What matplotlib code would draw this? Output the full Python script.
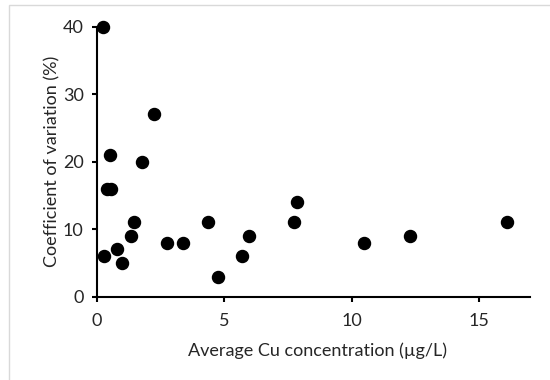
#!/usr/bin/env python

"""
Scatter of coefficient of variation against average Cu concentration.
"""

import matplotlib
matplotlib.use("Agg")
import matplotlib.pyplot as plt
from matplotlib.patches import Rectangle

# values
cu_conc = [0.25, 0.27, 0.5, 0.4, 0.55, 0.78, 0.98, 1.35, 1.45, 1.76, 2.24,
           2.75, 3.37, 4.35, 4.75, 5.7, 5.96, 7.73, 7.84, 10.47, 12.3, 16.1]
cv_pct = [40, 6, 21, 16, 16, 7, 5, 9, 11, 20, 27,
          8, 8, 11, 3, 6, 9, 11, 14, 8, 9, 11]
x_ticks = [0, 5, 10, 15]
y_ticks = [0, 10, 20, 30, 40]

plt.rcParams['font.family'] = ['Lato', 'DejaVu Sans']

fig = plt.figure(figsize=(5.5, 3.8), dpi=100)
ax = fig.add_axes([0.176, 0.219, 0.788, 0.711])

# light grey chart-area frame, as in the spreadsheet export
fig.patches.append(Rectangle((9 / 550, -0.1), 1.2, 1 - 5 / 380 + 0.1,
                             transform=fig.transFigure, fill=False,
                             edgecolor='#d9d9d9', linewidth=1))

ax.scatter(cu_conc, cv_pct, s=75, color='black', zorder=3, clip_on=False)

ax.set_xlim(0, 17)
ax.set_ylim(0, 40)
ax.set_xticks(x_ticks)
ax.set_yticks(y_ticks)
ax.spines['top'].set_visible(False)
ax.spines['right'].set_visible(False)
for side in ['left', 'bottom']:
    ax.spines[side].set_linewidth(1.5)
ax.tick_params(direction='out', length=3.5, width=1.5, labelsize=13,
               colors='black', labelcolor='#262626')
ax.tick_params(axis='x', pad=8)
ax.tick_params(axis='y', pad=6)
ax.set_xlabel("Average Cu concentration (µg/L)", fontsize=13, color='#262626')
ax.set_ylabel("Coefficient of variation (%)", fontsize=13, color='#262626')
ax.xaxis.set_label_coords(0.51, -0.17)
ax.yaxis.set_label_coords(-0.084, 0.5)

fig.savefig("out.png", dpi=100)
